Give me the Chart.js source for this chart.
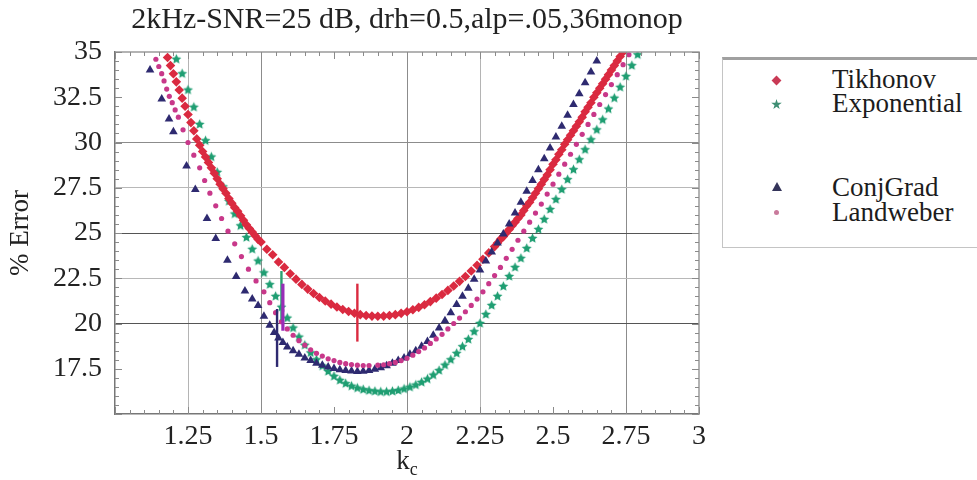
<!DOCTYPE html>
<html>
<head>
<meta charset="utf-8">
<script src="https://cdn.jsdelivr.net/npm/chart.js@4.4.1/dist/chart.umd.min.js"></script>
<style>
html,body{margin:0;padding:0;background:#fff;}
#wrap{position:relative;width:977px;height:480px;overflow:hidden;background:#fff;}
#c{position:absolute;left:0;top:0;}
#legend{position:absolute;left:722px;top:57px;width:280px;height:191px;border:1px solid #c4c4c4;border-top:3px solid #a0a0a0;background:#fff;box-sizing:border-box;}
.item{position:absolute;left:109px;font-family:'Liberation Serif',serif;font-size:27px;color:#1c1c1c;line-height:27px;white-space:nowrap;}
.mk{position:absolute;}
#xt{position:absolute;left:357px;top:447px;width:100px;text-align:center;font-family:'Liberation Serif',serif;font-size:27px;color:#222;line-height:27px;}
#xt sub{font-size:18px;vertical-align:-6px;line-height:0;}
</style>
</head>
<body>
<div id="wrap">
<canvas id="c" width="814" height="480"></canvas>
<div id="legend">
  <div class="mk" style="left:50px;top:17px;width:7px;height:7px;background:#c93a55;transform:rotate(45deg);"></div>
  <div class="item" style="top:6px;">Tikhonov</div>
  <div class="mk" style="left:48px;top:39px;width:11px;height:11px;background:#3f8f74;clip-path:polygon(50% 0%,61% 35%,98% 35%,68% 57%,79% 91%,50% 70%,21% 91%,32% 57%,2% 35%,39% 35%);"></div>
  <div class="item" style="top:30px;">Exponential</div>
  <div class="mk" style="left:49px;top:122px;width:0;height:0;border-left:5px solid transparent;border-right:5px solid transparent;border-bottom:9px solid #34345a;"></div>
  <div class="item" style="top:114px;">ConjGrad</div>
  <div class="mk" style="left:51px;top:150px;width:5px;height:5px;border-radius:50%;background:#c97a9c;"></div>
  <div class="item" style="top:139px;">Landweber</div>
</div>
<div id="xt">k<sub>c</sub></div>
</div>
<script>
// ---------- data ----------
const titleText = '2kHz-SNR=25 dB, drh=0.5,alp=.05,36monop';
const xTickValues = [1.25, 1.5, 1.75, 2, 2.25, 2.5, 2.75, 3];
const yTickValues = [17.5, 20, 22.5, 25, 27.5, 30, 32.5, 35];

const tikK = [1.18,1.19,1.20,1.21,1.22,1.23,1.24,1.25,1.26,1.27,1.28,1.29,1.30,1.31,1.32,1.33,1.34,1.35,1.36,1.37,1.38,1.39,1.40,1.41,1.42,1.43,1.44,1.45,1.46,1.47,1.48,1.49,1.50,
  1.52,1.54,1.56,1.58,1.60,1.62,1.64,1.66,1.68,1.70,1.72,1.74,1.76,1.78,1.80,1.82,1.84,1.86,1.88,1.90,1.92,1.94,1.96,1.98,2.00,2.02,2.04,2.06,2.08,2.10,2.12,2.14,2.16,2.18,2.20,2.22,2.24,2.26,2.28,2.30,
  2.31,2.32,2.33,2.34,2.35,2.36,2.37,2.38,2.39,2.40,2.41,2.42,2.43,2.44,2.45,2.46,2.47,2.48,2.49,2.50,2.51,2.52,2.53,2.54,2.55,2.56,2.57,2.58,2.59,2.60,2.61,2.62,2.63,2.64,2.65,2.66,2.67,2.68,2.69,2.70,2.71,2.72,2.73,2.74];
const tikErr = [34.7,34.25,33.8,33.35,32.9,32.45,32.0,31.55,31.1,30.65,30.2,29.85,29.5,29.2,28.9,28.6,28.3,28.0,27.7,27.45,27.2,26.9,26.65,26.4,26.2,25.95,25.7,25.45,25.25,25.05,24.85,24.65,24.5,
  24.1,23.8,23.4,23.1,22.75,22.45,22.16,21.9,21.66,21.44,21.24,21.07,20.91,20.77,20.66,20.57,20.49,20.44,20.41,20.4,20.41,20.44,20.49,20.56,20.65,20.76,20.89,21.04,21.21,21.4,21.6,21.83,22.07,22.33,22.6,22.9,23.22,23.55,23.9,24.25,
  24.45,24.65,24.8,25.0,25.2,25.4,25.6,25.8,26.0,26.25,26.5,26.7,26.95,27.2,27.45,27.7,27.95,28.2,28.5,28.8,29.05,29.35,29.6,29.9,30.15,30.4,30.65,30.9,31.15,31.4,31.7,31.95,32.2,32.5,32.75,33.0,33.25,33.5,33.75,34.0,34.25,34.5,34.75,35.0];

const expK = [1.21,1.23,1.25,1.27,1.29,1.31,1.33,1.35,1.37,1.39,1.41,1.43,1.45,1.47,1.49,1.51,1.53,1.55,1.57,1.59,1.61,1.63,1.65,1.67,1.69,1.71,1.73,1.75,1.77,1.79,
  1.81,1.83,1.85,1.87,1.89,1.91,1.93,1.95,1.97,1.99,2.01,2.03,2.05,2.07,2.09,2.11,2.13,2.15,2.17,2.19,2.21,2.23,2.25,2.27,2.29,2.31,2.33,2.35,2.37,2.39,
  2.41,2.43,2.45,2.47,2.49,2.51,2.53,2.55,2.57,2.59,2.61,2.63,2.65,2.67,2.69,2.71,2.73,2.75,2.77,2.79];
const expErr = [34.6,33.8,32.9,31.95,31.0,30.1,29.2,28.35,27.55,26.75,26.05,25.4,24.75,24.1,23.45,22.8,22.15,21.5,20.9,20.3,19.75,19.25,18.8,18.38,18.0,17.65,17.35,17.08,16.86,16.68,
  16.54,16.43,16.35,16.29,16.25,16.22,16.22,16.25,16.3,16.38,16.48,16.6,16.75,16.93,17.15,17.4,17.7,18.0,18.35,18.72,19.12,19.55,20.0,20.5,21.0,21.5,22.05,22.6,23.1,23.6,
  24.15,24.7,25.2,25.75,26.3,26.85,27.4,27.95,28.5,29.05,29.6,30.15,30.7,31.25,31.85,32.45,33.05,33.65,34.25,34.85];

const cgK = [1.12,1.16,1.185,1.20,1.245,1.275,1.315,1.345,1.385,1.415,1.445,1.47,1.49,1.51,1.53,1.545,1.56,1.575,
  1.59,1.61,1.63,1.65,1.67,1.69,1.71,1.73,1.75,1.77,1.79,1.81,1.83,1.85,1.87,1.89,1.91,1.93,1.95,1.97,1.99,2.01,2.03,2.05,2.07,2.09,2.11,2.13,2.15,2.17,
  2.19,2.21,2.23,2.25,2.27,2.29,2.31,2.33,2.35,2.37,2.39,2.41,2.43,2.45,2.47,2.49,2.51,2.53,2.55,2.57,2.59,2.61,2.63,2.65];
const cgErr = [34.0,32.4,31.3,30.6,28.7,27.4,25.8,24.7,23.5,22.6,21.8,21.35,21.0,20.4,19.9,19.5,19.2,18.95,
  18.7,18.5,18.3,18.1,17.95,17.8,17.7,17.6,17.52,17.45,17.4,17.37,17.35,17.36,17.4,17.47,17.56,17.67,17.8,17.95,18.1,18.3,18.5,18.75,19.0,19.35,19.75,20.15,20.6,21.05,
  21.5,21.95,22.45,22.95,23.45,23.95,24.45,24.95,25.5,26.1,26.7,27.3,27.9,28.5,29.1,29.7,30.3,30.9,31.5,32.1,32.7,33.3,33.9,34.5];

const lwK = [1.14,1.15,1.16,1.168,1.177,1.186,1.196,1.206,1.217,1.233,1.25,1.27,1.29,1.307,1.325,1.345,1.365,1.387,1.41,1.433,1.457,1.483,1.51,1.53,1.55,1.57,1.59,1.61,1.63,1.65,
  1.67,1.69,1.71,1.73,1.75,1.77,1.79,1.81,1.83,1.85,1.87,
  1.90,1.92,1.94,1.96,1.98,2.00,2.02,2.04,2.06,2.08,2.10,2.12,2.14,2.16,2.18,2.20,2.22,2.24,2.26,2.28,2.30,2.32,2.34,2.36,2.38,2.40,2.42,2.44,2.46,2.48,
  2.50,2.52,2.54,2.56,2.58,2.60,2.62,2.64,2.66,2.68,2.70,2.72,2.74,2.76];
const lwErr = [34.6,34.2,33.8,33.4,32.95,32.55,32.2,31.8,31.4,30.7,30.0,29.3,28.6,27.9,27.2,26.5,25.8,25.1,24.4,23.7,23.0,22.35,21.75,21.15,20.6,20.1,19.7,19.35,19.05,18.8,
  18.55,18.35,18.2,18.05,17.95,17.85,17.78,17.73,17.7,17.68,17.68,
  17.7,17.72,17.78,17.85,17.95,18.08,18.25,18.45,18.65,18.9,19.15,19.4,19.7,20.0,20.3,20.65,21.0,21.35,21.75,22.2,22.65,23.1,23.6,24.1,24.6,25.1,25.6,26.1,26.6,27.15,
  27.7,28.25,28.8,29.35,29.9,30.45,31.0,31.55,32.1,32.65,33.2,33.75,34.3,34.85];

// optimum markers (vertical bars): Tikhonov, Exponential, ConjGrad, Landweber
const markerK  = [1.83, 1.57, 1.555, 1.575];
const markerLo = [19.0, 20.2, 17.6, 19.6];
const markerHi = [22.2, 22.9, 20.8, 22.2];

// ---------- styles ----------
const colTik = '#da2a40', colExp = '#1f9e72', colCG = '#2e2a70', colLW = '#c8388a';
const markerColors = [colTik, '#2aa070', '#2e2a70', '#9a2cb8'];
const markerWidths = [2.4, 2.4, 2.4, 3.2];
const markerOrders = [0.1, 0.5, 0.3, 0.2];
const vGridStrong = [1.5, 2, 2.75], vGridLight = [1.25, 2.25];
const hGridStrong = [20, 25], hGridMid = [30], hGridLight = [22.5, 27.5];
const SERIF = "'Liberation Serif', serif";

function pts(xs, ys){ const n = Math.min(xs.length, ys.length); const o=[]; for(let i=0;i<n;i++) o.push({x:xs[i], y:ys[i]}); return o; }
function has(arr, v){ return arr.some(a => Math.abs(a - v) < 1e-6); }

function starCanvas(color, r){
  const s = Math.ceil(r*2)+2, c = document.createElement('canvas');
  c.width = c.height = s;
  const g = c.getContext('2d');
  g.fillStyle = color; g.beginPath();
  for (let i=0;i<10;i++){ const a = -Math.PI/2 + i*Math.PI/5; const rr = (i%2) ? r*0.48 : r; g.lineTo(s/2 + rr*Math.cos(a), s/2 + rr*Math.sin(a)); }
  g.closePath(); g.fill();
  return c;
}
const starImg = starCanvas(colExp, 5.2);

const datasets = [
  {label:'Exponential', data: pts(expK, expErr), pointStyle: starImg, pointRadius: 5.2, backgroundColor: colExp, borderColor: colExp, borderWidth: 0, showLine:false, order: 4},
  {label:'Tikhonov', data: pts(tikK, tikErr), pointStyle: 'rectRot', pointRadius: 4.8, backgroundColor: colTik, borderColor: colTik, borderWidth: 0, showLine:false, order: 3},
  {label:'ConjGrad', data: pts(cgK, cgErr), pointStyle: 'triangle', pointRadius: 5, backgroundColor: colCG, borderColor: colCG, borderWidth: 0, showLine:false, order: 2},
  {label:'Landweber', data: pts(lwK, lwErr), pointStyle: 'circle', pointRadius: 2.6, backgroundColor: colLW, borderColor: colLW, borderWidth: 0, showLine:false, order: 1}
];
for (let i=0;i<markerK.length;i++){
  datasets.push({label:'opt'+i, data:[{x:markerK[i], y:markerLo[i]},{x:markerK[i], y:markerHi[i]}], showLine:true, pointRadius:0, borderColor: markerColors[i], borderWidth: markerWidths[i], order: markerOrders[i]});
}

const framePlugin = {
  id:'frame',
  afterDraw(chart){
    const {ctx, chartArea:{left,right,top,bottom}, scales:{x,y}} = chart;
    ctx.save();
    ctx.strokeStyle = '#9a9a9a'; ctx.lineWidth = 1.5;
    ctx.beginPath(); ctx.moveTo(left, top); ctx.lineTo(right, top); ctx.lineTo(right, bottom); ctx.stroke();
    ctx.strokeStyle = '#8a8a8a'; ctx.lineWidth = 1;
    ctx.beginPath();
    for (let i=0;i<=40;i++){
      const px = Math.round(x.getPixelForValue(1 + i*0.05)) + 0.5;
      const L = (i%5===0) ? 7 : 4;
      ctx.moveTo(px, bottom); ctx.lineTo(px, bottom - L);
      ctx.moveTo(px, top); ctx.lineTo(px, top + L);
    }
    for (let i=0;i<=40;i++){
      const py = Math.round(y.getPixelForValue(15 + i*0.5)) + 0.5;
      const L = (i%5===0) ? 7 : 4;
      ctx.moveTo(left, py); ctx.lineTo(left + L, py);
      ctx.moveTo(right, py); ctx.lineTo(right - L, py);
    }
    ctx.stroke();
    ctx.restore();
  }
};

new Chart(document.getElementById('c'), {
  type: 'scatter',
  data: { datasets },
  options: {
    responsive: false, animation: false, devicePixelRatio: 1,
    layout: { padding: { left: 0, right: 115, top: 0, bottom: 0 } },
    plugins: {
      legend: { display: false },
      tooltip: { enabled: false },
      title: { display: true, fullSize: false, text: titleText, color: '#222',
        font: { family: SERIF, size: 30, weight: 'normal', lineHeight: 1.2 },
        padding: { top: 2, bottom: 14 } }
    },
    scales: {
      x: {
        type: 'linear', min: 1, max: 3,
        afterBuildTicks: s => { s.ticks = xTickValues.map(v => ({value: v})); },
        afterFit: s => { s.height = 66; },
        ticks: { autoSkip: false, maxRotation: 0, padding: 6, color: '#222', font: { family: SERIF, size: 28 }, callback: v => String(v) },
        grid: { drawTicks: false, lineWidth: 1,
          color: c => { const v = c.tick ? c.tick.value : NaN; if (has(vGridStrong, v)) return '#8c8c8c'; if (has(vGridLight, v)) return '#b4b4b4'; return 'rgba(0,0,0,0)'; } },
        border: { display: true, color: '#777', width: 1.5 }
      },
      y: {
        type: 'linear', min: 15, max: 35,
        afterBuildTicks: s => { s.ticks = yTickValues.map(v => ({value: v})); },
        afterFit: s => { s.width = 115; },
        ticks: { autoSkip: false, padding: 13, color: '#222', font: { family: SERIF, size: 28 }, callback: v => String(v) },
        grid: { drawTicks: false, lineWidth: 1,
          color: c => { const v = c.tick ? c.tick.value : NaN; if (has(hGridStrong, v)) return '#555'; if (has(hGridMid, v)) return '#8c8c8c'; if (has(hGridLight, v)) return '#b8b8b8'; return 'rgba(0,0,0,0)'; } },
        border: { display: true, color: '#777', width: 1.5 },
        title: { display: true, text: '% Error', color: '#222', font: { family: SERIF, size: 27, weight: 'normal' }, padding: { top: 5, bottom: 0 } }
      }
    }
  },
  plugins: [framePlugin]
});
</script>
</body>
</html>
